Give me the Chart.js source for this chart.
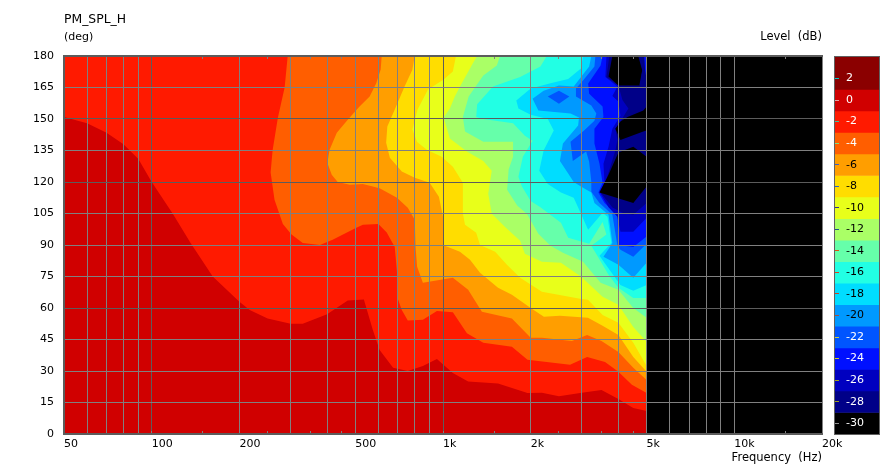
<!DOCTYPE html>
<html>
<head>
<meta charset="utf-8">
<script src="https://cdn.jsdelivr.net/npm/chart.js@4"></script>
<style>
html,body{margin:0;padding:0;background:#fff;overflow:hidden}
#main{position:absolute;left:0;top:0}
#barWrap{position:absolute;left:834px;top:56px;width:44px;height:377px;border:1px solid #606060}
</style>
</head>
<body>
<canvas id="main" width="892" height="469"></canvas>
<div id="barWrap"><canvas id="bar" width="44" height="377"></canvas></div>
<script>
const titleText = 'PM_SPL_H';
const yUnit = '(deg)';
const levelUnit = 'Level  (dB)';
const xUnit = 'Frequency  (Hz)';
const freqMin = 50, freqMax = 20000, angleMin = 0, angleMax = 180, angleStep = 15;
const freqTicks = [50,60,70,80,90,100,200,300,400,500,600,700,800,900,1000,2000,3000,4000,5000,6000,7000,8000,9000,10000,20000];
const freqMinorTicks = [150,250,350,450,1500,2500,3500,4500,15000];
const freqLabels = {50:'50',100:'100',200:'200',500:'500',1000:'1k',2000:'2k',5000:'5k',10000:'10k',20000:'20k'};
const levels = [2,0,-2,-4,-6,-8,-10,-12,-14,-16,-18,-20,-22,-24,-26,-28,-30];
const levelColors = ['#8b0000','#d00000','#ff1a00','#ff5e00','#ff9e00','#ffdd00','#e8ff1a','#aaff66','#66ffaa','#22ffe4','#00ddff','#0099ff','#0055ff','#0010ff','#0000c0','#000088','#000000'];
const levelTickColors = ['#00c8c8','#e8a0a0','#40c0a0','#80e080','#4060c0','#2060d0','#303090','#205090','#e05010','#e04020','#d04020','#a05040','#d0d040','#d0d020','#a0a020','#a0a020','#909090'];
const levelTop = 4, levelBottom = -31;

/* contours: [frequency Hz, angle deg] */
const bandAll = [[50,0],[20000,0],[20000,180],[50,180]];
const contourM1 = [[50,180],[50,151],[60,148],[70,143.5],[80,138],[90,131],[100,120],[118,105],[136,91],[162,75],[200,63],[217,59],[250,55],[300,52.5],[330,52.5],[400,57],[471,63.6],[535,64],[574,49.6],[606,40],[674,31.5],[757,30],[853,32.4],[953,35.7],[1081,29],[1220,25],[1545,24],[1950,19.5],[2185,19.7],[2500,18],[2955,19.5],[3500,21],[4000,16.7],[4500,12.4],[5000,11]];
const contourM3 = [[293,180],[286,165],[271,150.5],[260,135],[256,124.5],[264,111.5],[282,100],[302,95],[330,91],[378,90],[418,92.5],[500,98],[531,99.7],[600,100],[641,96],[683,89],[695,77],[695,65.5],[722,59],[757,54],[853,54.4],[953,58.6],[1081,58],[1208,48],[1375,43.4],[1724,41.5],[1950,35.3],[2730,33],[3124,36.7],[3600,34.3],[4000,29.6],[4450,23.4],[5000,19.5]];
const contourM5 = [[616,180],[611,173.6],[590,167],[560,160.7],[517,156],[471,149.7],[432,143.5],[408,135.4],[401,129],[415,123.5],[435,120],[479,118.7],[531,119],[606,117],[695,112.5],[757,107.7],[800,102],[805,89],[815,79.6],[853,72],[1081,74.4],[1220,68.7],[1360,58.2],[1724,55],[2000,45.8],[2185,45.8],[2770,44.3],[3124,47.2],[3500,44.3],[4000,39],[4500,31.5],[5000,25.7]];
const contourM7 = [[800,180],[785,173.5],[738,165.5],[683,154.5],[644,146.4],[638,138.7],[657,131.6],[722,125],[800,122],[900,119.7],[968,113],[1000,103.5],[1000,90],[1143,86.8],[1238,83],[1340,76.8],[1545,69.6],[1724,66.3],[2000,60],[2220,55.8],[2520,56.3],[3145,55.3],[3530,51.5],[4000,47.2],[4500,36.7],[5000,29.6]];
const contourM9 = [[1108,180],[1081,172.6],[1005,168.8],[888,164],[818,154.5],[785,145],[815,139],[880,135.4],[990,132],[1081,127.3],[1170,119.7],[1170,105],[1190,99.7],[1300,95.8],[1340,90],[1510,86.8],[1657,80.6],[1840,74.4],[2185,67.7],[2955,64.4],[3145,63.9],[3530,56.7],[4000,53],[4500,43.4],[5000,32.4]];
const contourM11 = [[1310,180],[1265,176.4],[1143,165.4],[1098,160.7],[1056,155],[1005,150.7],[1056,140.7],[1208,134.5],[1375,130],[1470,125.4],[1430,114.4],[1470,104.9],[1630,98.7],[1840,92],[1910,85.8],[2185,82],[2540,81.5],[2975,75],[3530,65.3],[4000,61.5],[4500,51],[5000,43.9]];
const contourM13 = [[1570,180],[1530,175.5],[1375,170.7],[1225,160.7],[1170,151],[1190,144],[1375,139.2],[1740,139.2],[1740,132],[1680,125.9],[1660,116.3],[1800,108.7],[1940,104.9],[2125,95.4],[2340,89.6],[2580,86.3],[3025,82],[3475,72],[4000,68.7],[4500,60],[5000,55.3]];
const contourM15 = [[2270,180],[2160,175],[1840,170],[1485,165.5],[1310,157],[1300,151],[1375,150],[1740,148],[1910,142],[2030,139.7],[1880,132],[1815,122.5],[1865,118],[2000,111],[2160,108],[2540,100.6],[2690,93.5],[3175,90.6],[3530,101],[3640,95],[3230,89.6],[3415,84],[3700,75.8],[4000,69.6],[4500,64.8],[5000,64.8]];
const contourM17 = [[3025,180],[2975,174],[2690,169],[2340,167],[2000,164.5],[1785,158.8],[1815,155],[2000,152],[2290,150],[2400,144.5],[2215,135],[2140,125.4],[2290,119],[2540,115],[2810,112.5],[2910,107.8],[3150,97.3],[3530,105.4],[3670,103.5],[3785,91],[3445,84.9],[4065,71],[4500,68.2],[5000,71]];
const contourM19 = [[3230,180],[3175,175],[2810,165.5],[2500,166],[2215,163.5],[2030,159.7],[2125,154],[2740,152.6],[2930,150.7],[2910,146.9],[2580,138.3],[2520,130],[2690,124],[2810,120],[3025,117.3],[3230,115],[3310,110],[3700,104.4],[3815,91],[3555,84.4],[4000,80.6],[4500,74.4],[5000,81.5]];
const contourM21 = [[3335,180],[3310,175],[3025,168.3],[2860,164.5],[2860,160.7],[3230,156.4],[3360,152.6],[3310,149.2],[3050,144.5],[2740,139.2],[2790,130],[3100,134.5],[3175,129.7],[3230,120],[3230,115.4],[3445,110],[3815,104.4],[3970,89.6],[4065,87.7],[4500,84.4],[5000,90.6]];
const islandM21 = [[2290,160.7],[2500,163.5],[2715,160.7],[2500,157.3]];
const contourM23 = [[3530,180],[3475,175.5],[3150,166.9],[3175,162],[3530,156],[3555,151],[3310,145.4],[3310,138.3],[3445,128.7],[3530,119.7],[3415,115],[3585,110],[3970,104.4],[4000,90],[4500,89],[5000,94]];
const contourM25 = [[3640,180],[3610,170],[3970,165.5],[3815,161],[4000,158.3],[4065,151.6],[3815,145.4],[3700,136.8],[3555,128.7],[3585,119.7],[3445,115.4],[3700,108],[3970,103.5],[4065,96.3],[4500,96.3],[5000,103]];
const contourM27 = [[3725,180],[3640,170],[4000,166],[4130,159],[4330,155],[4065,148.8],[3905,145.4],[3970,140],[3905,135],[3755,127.3],[3610,120],[3475,115],[3815,107.8],[4130,105.4],[4500,104.4],[5000,110]];
const blackOne = [[3815,180],[3700,170.2],[4000,166],[4750,166],[4830,173.2],[4680,180]];
const blackTwo = [[3905,145.4],[4065,148.8],[4300,151],[4870,154],[5000,156],[5000,144.5],[4870,144],[4065,140]];
const blackThree = [[4500,136.8],[4000,134],[3700,123.5],[3445,115],[4500,110],[5000,117.8],[5000,132]];
const blackRight = [[5000,0],[20000,0],[20000,180],[5000,180]];
const edgeNavy = [[4750,180],[4830,173.2],[4720,166],[5000,165.5],[5000,180]];
const edgeBlue = [[4905,180],[4945,173],[5000,169],[5000,180]];
const edgeLight = [[4980,180],[5000,173.5],[5000,180]];

function colorOf(level){ return levelColors[levels.indexOf(level)]; }
function toTop(arr){ return arr.concat([[5000,180]]); }
const layers = [
  [bandAll,0],[toTop(contourM1),-2],[toTop(contourM3),-4],[toTop(contourM5),-6],[toTop(contourM7),-8],
  [toTop(contourM9),-10],[toTop(contourM11),-12],[toTop(contourM13),-14],[toTop(contourM15),-16],
  [toTop(contourM17),-18],[toTop(contourM19),-20],[toTop(contourM21),-22],[islandM21,-22],
  [toTop(contourM23),-24],[toTop(contourM25),-26],[toTop(contourM27),-28],
  [blackOne,-30],[blackTwo,-30],[blackThree,-30],[blackRight,-30],
  [edgeNavy,-28],[edgeBlue,-24],[edgeLight,-20]
];

const polygonFill = {
  id:'polygonFill',
  afterDatasetDraw(chart,args){
    const meta = args.meta, ds = chart.data.datasets[args.index];
    const a = chart.chartArea, ctx = chart.ctx;
    ctx.save();
    ctx.beginPath(); ctx.rect(a.left,a.top,a.right-a.left,a.bottom-a.top); ctx.clip();
    ctx.beginPath();
    meta.data.forEach((p,i)=>{ if(i) ctx.lineTo(p.x,p.y); else ctx.moveTo(p.x,p.y); });
    ctx.closePath();
    ctx.fillStyle = ds.polygonColor;
    ctx.fill();
    ctx.restore();
  }
};

const font = {family:'"DejaVu Sans"',size:11};
const unitFont = {family:'"DejaVu Sans"',size:11.5,weight:'normal'};
const headFont = {family:'"DejaVu Sans"',size:12.4,weight:'normal'};
const textColor = '#000';
const gridLight = '#808080', gridDark = '#5c5c5c';
const darkFreq = [100,1000], darkAngle = [60,120,150];

new Chart(document.getElementById('main'),{
  type:'scatter',
  plugins:[polygonFill],
  data:{datasets:layers.map((l,i)=>({
    data:l[0].map(p=>({x:p[0],y:p[1]})),
    polygonColor:colorOf(l[1]),
    order:layers.length-i,
    pointRadius:0,pointHoverRadius:0,showLine:false,clip:false
  }))},
  options:{
    responsive:false,animation:false,
    layout:{padding:{left:0,right:70,top:0,bottom:0}},
    plugins:{
      legend:{display:false},tooltip:{enabled:false},
      title:{display:true,text:titleText,align:'start',fullSize:false,color:textColor,font:headFont,padding:{top:12,bottom:1.62}}
    },
    scales:{
      x:{
        type:'logarithmic',position:'bottom',min:freqMin,max:freqMax,
        afterBuildTicks(s){ s.ticks = freqTicks.concat(freqMinorTicks).sort((a,b)=>a-b).map(v=>({value:v})); },
        afterFit(s){ s.height=35; s.paddingRight=0; s.paddingLeft=0; },
        ticks:{autoSkip:false,maxRotation:0,minRotation:0,align:'start',padding:7,color:textColor,font:font,
          callback(v){ return freqLabels[v]||''; }},
        grid:{z:1,lineWidth:1,tickLength:-3,tickColor:gridLight,
          color(c){ const v=c.tick&&c.tick.value; if(freqMinorTicks.includes(v)) return 'rgba(0,0,0,0)'; return darkFreq.includes(v)?gridDark:gridLight; }},
        border:{color:gridDark,width:2,z:2},
        title:{display:true,text:xUnit,align:'end',color:textColor,font:unitFont,padding:{top:0,bottom:4}}
      },
      xTop:{
        type:'logarithmic',axis:'x',position:'top',min:freqMin,max:freqMax,weight:0,
        afterBuildTicks(s){ s.ticks = freqMinorTicks.map(v=>({value:v})); },
        afterFit(s){ s.height=27.5; s.paddingRight=0; s.paddingLeft=0; },
        ticks:{display:false},
        grid:{z:1,drawOnChartArea:false,tickLength:-3,tickColor:gridLight},
        border:{color:gridDark,width:2,z:2},
        title:{display:true,text:levelUnit,align:'end',color:textColor,font:unitFont,padding:{top:2,bottom:0}}
      },
      xUnitAxis:{
        type:'logarithmic',axis:'x',position:'top',min:freqMin,max:freqMax,weight:1,
        afterBuildTicks(s){ s.ticks = []; },
        afterFit(s){ s.height=0; s.paddingRight=0; s.paddingLeft=0; },
        ticks:{display:false},grid:{display:false},border:{display:false},
        title:{display:true,text:yUnit,align:'start',color:textColor,font:font,padding:{top:2.4,bottom:0}}
      },
      y:{
        type:'linear',position:'left',min:angleMin,max:angleMax,
        afterFit(s){ s.width=64; },
        ticks:{stepSize:angleStep,padding:10,color:textColor,font:font},
        grid:{z:1,lineWidth:1,drawTicks:false,
          color(c){ return darkAngle.includes(c.tick&&c.tick.value)?gridDark:gridLight; }},
        border:{color:gridDark,width:2,z:2}
      },
      yRight:{
        type:'linear',axis:'y',position:'right',min:angleMin,max:angleMax,
        afterFit(s){ s.width=0; },
        ticks:{display:false},grid:{display:false},border:{color:gridDark,width:2}
      }
    }
  }
});

const lightText = [2,0,-2,-4,-22,-24,-26,-28,-30];
new Chart(document.getElementById('bar'),{
  type:'bar',
  data:{
    labels:[levelUnit],
    datasets:levels.map((lv,i)=>({
      data:[[i===levels.length-1?levelBottom:lv-1, i===0?levelTop:lv+1]],
      backgroundColor:levelColors[i],borderWidth:0,barPercentage:1,categoryPercentage:1
    }))
  },
  options:{
    responsive:false,animation:false,
    layout:{padding:0},
    plugins:{legend:{display:false},tooltip:{enabled:false}},
    scales:{
      x:{display:false,stacked:true},
      y:{
        min:levelBottom,max:levelTop,position:'left',
        afterBuildTicks(s){ s.ticks = levels.map(v=>({value:v})); },
        afterFit(s){ s.width=0; s.paddingTop=0; s.paddingBottom=0; },
        ticks:{mirror:true,padding:11,font:font,autoSkip:false,z:2,
          color(c){ return lightText.includes(c.tick.value)?'#fff':'#000'; }},
        grid:{z:1,drawOnChartArea:false,tickLength:-4,
          tickColor(c){ return levelTickColors[levels.indexOf(c.tick.value)]; }},
        border:{display:false}
      }
    }
  }
});
</script>
</body>
</html>
